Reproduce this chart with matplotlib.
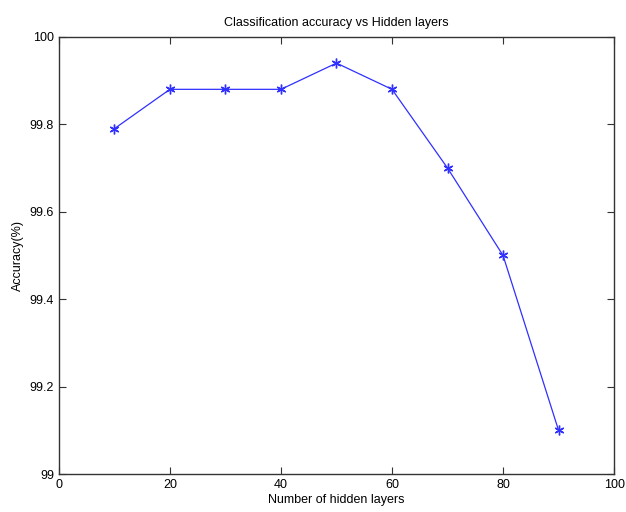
import matplotlib
matplotlib.use('Agg')
import matplotlib.pyplot as plt

hidden_layers = [10, 20, 30, 40, 50, 60, 70, 80, 90]
accuracy = [99.79, 99.88, 99.88, 99.88, 99.94, 99.88, 99.70, 99.50, 99.10]

plt.rcParams['font.family'] = ['Liberation Sans', 'DejaVu Sans']

fig = plt.figure(figsize=(6.26, 5.12), dpi=100)
ax = fig.add_axes([0.094, 0.074, 0.887, 0.854])

ax.plot(hidden_layers, accuracy, color='#3030ff', linewidth=0.9,
        marker=(6, 2, 0), markersize=7, markeredgewidth=1.0)

ax.set_xlim(0, 100)
ax.set_ylim(99, 100)
ax.set_xticks([0, 20, 40, 60, 80, 100])
ax.set_yticks([99, 99.2, 99.4, 99.6, 99.8, 100])
ax.set_yticklabels(['99', '99.2', '99.4', '99.6', '99.8', '100'])
ax.tick_params(direction='in', top=True, right=True, length=5, labelsize=9,
               color='#333333')
for s in ax.spines.values():
    s.set_color('#333333')
    s.set_linewidth(1.0)

ax.set_xlabel('Number of hidden layers', fontsize=9, labelpad=2)
ax.set_ylabel('Accuracy(%)', fontsize=9)
ax.set_title('Classification accuracy vs Hidden layers', fontsize=9, pad=8)

plt.savefig('out.png', dpi=100)
